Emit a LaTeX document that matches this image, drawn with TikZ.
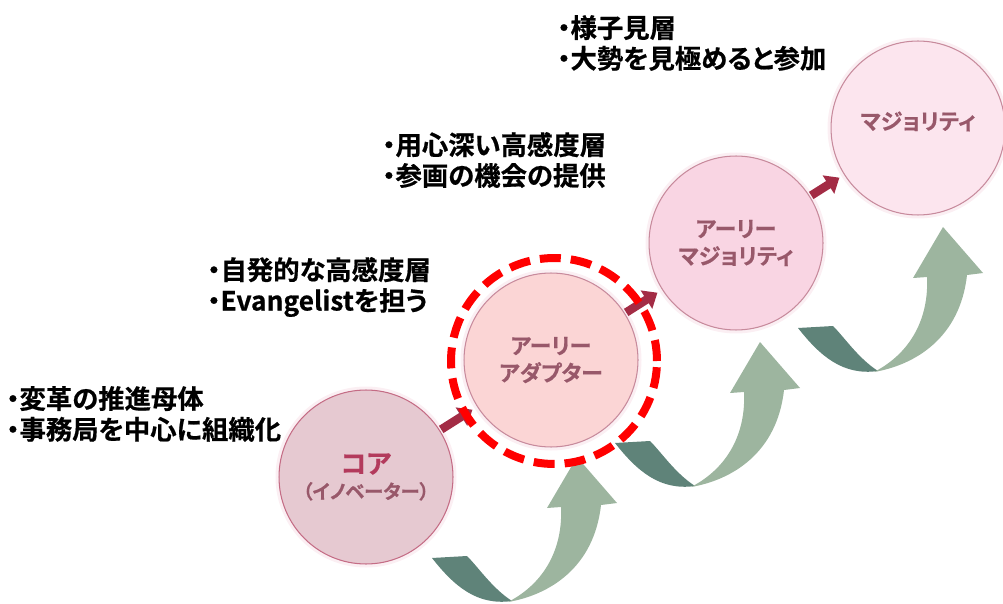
\documentclass[tikz,border=0pt]{standalone}
\usepackage{fontspec}
\newfontfamily\jpfont[RawFeature=+palt, FakeBold=0.6]{Noto Sans CJK JP Bold}
\usetikzlibrary{arrows.meta}
\definecolor{rimcol}{HTML}{C78A9C}
\definecolor{glowcol}{HTML}{FBEFF3}
\definecolor{labcol}{HTML}{98586A}
\definecolor{corecol}{HTML}{B33A5C}
\definecolor{pushcol}{HTML}{A32C45}
\definecolor{backcol}{HTML}{5F8379}
\definecolor{frontcol}{HTML}{9DB59F}

\begin{document}
\begin{tikzpicture}[x=0.02cm, y=-0.02cm,
  stage/.style={circle, minimum size=3.48cm, inner sep=0pt, outer sep=0pt,
    draw=rimcol, line width=0.6pt, preaction={draw=glowcol, line width=4pt},
    align=center, text=labcol, font=\jpfont\fontsize{12.5}{15.5}\selectfont},
  note/.style={anchor=west, align=left, inner sep=0pt,
    font=\jpfont\fontsize{15}{17.5}\selectfont},
  push/.style={-{Triangle[width=0.42cm, length=0.26cm]}, line width=0.17cm,
    draw=pushcol, shorten <=0.04cm, shorten >=0.12cm}
]
\useasboundingbox (0,0) rectangle (1003,604);

\foreach \tx/\ty in {432/558, 615/443, 798/328}{
\begin{scope}[shift={(\tx,\ty)}]
\fill[backcol] (0,0) .. controls (22,28) and (45,48) .. (80,43)
  .. controls (60,30) and (47,10) .. (35,-2) -- cycle;
\fill[frontcol] (76,44) .. controls (117,37) and (162,10) .. (169,-53)
  -- (185,-55) -- (145,-101) -- (115,-50) -- (129,-51)
  .. controls (131,-10) and (113,25) .. (76,44) -- cycle;
\end{scope}
}

\node[stage, fill={rgb,255:red,230;green,201;blue,209}, draw={rgb,255:red,196;green,108;blue,133}] (sid0) at (366,477)
  {{\fontsize{15}{16}\selectfont\color{corecol}コア}\\[-1pt]{\fontsize{11}{12}\selectfont （イノベーター）}};
\node[stage, fill={rgb,255:red,251;green,213;blue,213}] (sid1) at (551,360) {アーリー\\アダプター};
\node[stage, fill={rgb,255:red,249;green,213;blue,227}] (sid2) at (736,243) {アーリー\\マジョリティ};
\node[stage, fill={rgb,255:red,252;green,229;blue,238}, text depth=0.3cm] (sid3) at (918,128) {マジョリティ};

\draw[push] (sid0) -- (sid1);
\draw[push] (sid1) -- (sid2);
\draw[push] (sid2) -- (sid3);

\node[circle, draw=red, line width=0.16cm, dash pattern=on 0.42cm off 0.2cm,
  minimum size=4.12cm, inner sep=0pt] (ring) at (554,361) {};

\node[note] (lid0) at (6,414) {・変革の推進母体\\・事務局を中心に組織化};
\node[note] (lid1) at (207,287) {・自発的な高感度層\\・Evangelistを担う};
\node[note] (lid2) at (382,160) {・用心深い高感度層\\・参画の機会の提供};
\node[note] (lid3) at (557,43) {・様子見層\\・大勢を見極めると参加};

\end{tikzpicture}
\end{document}
